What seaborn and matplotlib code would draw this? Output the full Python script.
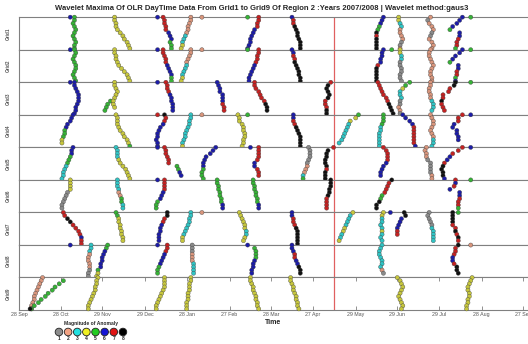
import matplotlib
matplotlib.use("Agg")
import matplotlib.pyplot as plt
import pandas as pd
import seaborn as sns

title = ("Wavelet Maxima Of OLR DayTime Data From Grid1 to Grid9 Of Region 2 "
         ":Years 2007/2008 | Wavelet method:gaus3")
tick_days = [0, 30, 60, 91, 121, 152, 182, 212, 243, 273, 303, 334, 364]
tick_labels = ["28 Sep", "28 Oct", "29 Nov", "29 Dec", "28 Jan", "27 Feb", "28 Mar",
               "27 Apr", "29 May", "29 Jun", "29 Jul", "28 Aug", "27 Sep"]
grid_names = ["Grid1", "Grid2", "Grid3", "Grid4", "Grid5", "Grid6", "Grid7", "Grid8", "Grid9"]
marker_day = 227.5
magnitudes = [1, 2, 3, 4, 5, 6, 7, 8]
point_colors = {1: "#8a8a8a", 2: "#d8957c", 3: "#30c4c4", 4: "#c6c63e",
                5: "#36b236", 6: "#1c1ca8", 7: "#c42222", 8: "#111111"}
legend_colors = {1: "#8c8c8c", 2: "#f2a283", 3: "#22e0e0", 4: "#f0f022",
                 5: "#22cc22", 6: "#1414d4", 7: "#e01414", 8: "#000000"}

# each track: (first scale level, days at successive levels, magnitude codes)
grid1 = [
    (0, [37], "6"),
    (0, [40, 40, 39, 40, 41, 40, 39, 40, 41, 40, 40], "55555555555"),
    (0, [69, 69, 70, 70, 71, 73, 75, 76, 78, 79, 80], "44444444444"),
    (0, [104, 105, 105, 106, 106, 108, 109, 110, 109, 110, 110], "77777666555"),
    (0, [100], "6"),
    (0, [124, 124, 123, 122, 122, 121, 120, 119, 118, 118, 117], "22222233344"),
    (0, [132], "2"),
    (0, [173, 173, 172, 172, 170, 169, 168, 167, 167, 166, 165], "77776666666"),
    (0, [165], "5"),
    (0, [197, 198, 198, 199, 200, 201, 201, 202, 203, 203, 203], "67788888888"),
    (0, [263, 262, 261, 260, 259, 258, 258, 258, 258, 258, 258], "66655878888"),
    (0, [274, 274, 275, 276, 275, 275, 276, 277, 276, 275, 275], "44332222112"),
    (0, [297, 295, 296, 298, 299, 298, 297, 296, 298, 299, 298], "21222112222"),
    (0, [320, 318, 316, 313, 311], "66665"),
    (5, [318, 318, 317, 316, 316, 315], "667775"),
    (0, [326], "5"),
]
grid2 = [
    (0, [37], "6"),
    (0, [40, 41, 40, 39, 40, 41, 41, 40, 39, 40, 41], "55555555555"),
    (0, [69, 69, 70, 70, 71, 72, 74, 76, 78, 79, 80], "44444444444"),
    (0, [104, 104, 105, 106, 106, 107, 108, 109, 110, 110, 110], "77777666655"),
    (0, [100], "6"),
    (0, [124, 124, 123, 122, 121, 121, 120, 119, 118, 118, 117], "22222333344"),
    (0, [132], "2"),
    (0, [173, 173, 172, 172, 171, 170, 169, 168, 167, 166, 166], "77777666666"),
    (0, [165], "5"),
    (0, [197, 198, 198, 199, 199, 200, 201, 202, 202, 203, 203], "66778888888"),
    (0, [263, 262, 262, 261, 261, 259, 258, 258, 258, 258, 258], "66666788888"),
    (0, [269], "5"),
    (0, [275, 275, 276, 276, 275, 275, 276, 276, 275, 275, 276], "44331111111"),
    (0, [297, 296, 296, 297, 298, 299, 298, 297, 297, 298, 298], "22222222222"),
    (0, [320, 318, 315, 313, 311], "66665"),
    (5, [317, 317, 316, 316, 315, 315], "667756"),
    (0, [326], "5"),
]
grid3 = [
    (0, [37], "6"),
    (0, [40, 40, 41, 42, 43, 43, 43, 42, 41, 41, 40], "66666666666"),
    (6, [66, 64, 63, 62], "5555"),
    (0, [69, 69, 70, 71, 70, 69, 68, 68, 69], "444444444"),
    (0, [100], "6"),
    (0, [106, 107, 107, 108, 109, 110, 110, 111, 111, 111], "7777666666"),
    (0, [143, 144, 145, 145, 147, 147, 147, 147, 148, 148], "6666666777"),
    (0, [170, 170, 171, 173, 174, 175, 177, 178, 179, 179], "7777777888"),
    (0, [225, 223, 222, 223, 224, 223, 221, 221, 222, 222, 222], "78888877788"),
    (0, [259, 260, 261, 262, 263, 265, 266, 267, 268, 269, 270], "77777778888"),
    (0, [282, 279, 277, 275, 275, 276, 275, 275, 274, 275, 275], "55433311221"),
    (0, [297, 297, 296, 296, 297, 297, 298, 299, 299, 298], "2222223333"),
    (0, [315, 314, 311, 310, 306, 306, 305, 305, 306, 307], "8877778777"),
    (0, [326], "5"),
]
grid4 = [
    (0, [39, 38, 37, 35, 34, 33, 33, 32, 31, 31], "6666655544"),
    (0, [70, 71, 71, 71, 72, 73, 75, 76, 78, 79, 80], "44444444445"),
    (0, [100], "7"),
    (0, [105, 106, 105, 104, 102, 101, 100, 100, 99, 100, 100], "87766666666"),
    (0, [124, 124, 123, 123, 122, 121, 120, 120, 119, 118, 118], "33333333334"),
    (0, [132], "2"),
    (0, [158, 159, 159, 161, 162, 162, 163, 163, 162, 162, 161], "44444444444"),
    (0, [165], "5"),
    (0, [198, 198, 198, 199, 200, 201, 202, 203, 203, 203, 203], "66778888888"),
    (0, [245, 243, 239, 238, 237, 236, 235, 234, 233, 231], "5443333333"),
    (0, [263, 263, 263, 262, 261, 261, 260, 260, 260, 260, 260], "55553333333"),
    (0, [277, 279, 282, 284, 285, 285, 285, 285, 285, 285, 286], "66667777776"),
    (0, [297, 298, 299, 299, 298, 297, 298, 299, 299, 299, 298], "22222222333"),
    (0, [320, 317, 317, 314, 313, 316, 316, 317, 317], "777666666"),
    (0, [326], "6"),
]
grid5 = [
    (0, [39, 38, 38, 37, 36, 35, 34, 33, 32, 32, 31], "66655533333"),
    (0, [70, 71, 71, 71, 72, 73, 75, 77, 78, 79, 80], "33334444444"),
    (0, [100], "6"),
    (0, [105, 106, 106, 107, 108, 108], "777777"),
    (6, [114, 115, 116, 117], "5566"),
    (0, [142, 140, 138, 135, 134, 133, 133, 133, 132, 132, 133], "66666665555"),
    (0, [167], "6"),
    (0, [173, 173, 173, 173, 172, 170, 170, 172, 173, 173], "7777766777"),
    (0, [209, 210, 210, 210, 209, 208, 208, 207, 206, 205, 205], "11111122235"),
    (0, [227], "7"),
    (1, [223, 222, 222, 221, 221, 222, 222, 221, 221, 221], "8888887888"),
    (0, [263, 265, 266, 266, 266, 265, 263, 262, 261, 261], "7777766666"),
    (0, [294, 293, 294, 294, 295, 297, 297, 297, 297, 298, 298], "22221111122"),
    (0, [320, 317, 313, 311, 309, 307, 306, 305, 306, 306, 307], "77766788886"),
    (0, [326], "6"),
]
grid6 = [
    (0, [37, 37, 37, 37, 35, 34, 33, 32, 31, 31], "4444111111"),
    (0, [71, 71, 71, 72, 72, 73, 74, 74, 75, 75], "3333225533"),
    (0, [100], "6"),
    (0, [105, 105, 105, 105, 104, 103, 102, 100, 99, 99], "7777666555"),
    (0, [143, 143, 144, 144, 145, 145, 146, 146, 147, 147], "5555555566"),
    (0, [169, 169, 170, 170, 171, 171, 172, 172, 173, 173], "5555555566"),
    (0, [225, 225, 225, 224, 224, 223, 222, 222, 222, 222], "8888887777"),
    (0, [269, 267, 266, 265, 264, 262, 261, 260, 258, 258], "8777755888"),
    (0, [315, 315, 314, 311], "7676"),
    (4, [318, 318, 318, 317, 317, 317], "667775"),
    (0, [326], "5"),
]
grid7 = [
    (0, [32, 33, 35, 37, 39, 41, 43, 44, 45, 45, 45], "77887777677"),
    (0, [70, 71, 72, 72, 73, 73, 74, 74, 75, 75], "5544444444"),
    (0, [107, 107, 105, 104, 103, 102, 102, 101, 101, 101], "8877666666"),
    (0, [124, 124, 123, 123, 122, 121, 120, 119, 118, 118], "3333333344"),
    (0, [132], "2"),
    (0, [159, 160, 161, 162, 163, 163, 164, 164, 163, 162], "4444443344"),
    (0, [197, 197, 198, 198, 199, 200, 201, 201, 201, 201, 201], "66777888888"),
    (0, [241, 239, 238, 237, 236, 235, 234, 233, 232, 231], "4333344334"),
    (0, [263, 262, 262, 262, 261, 262, 262, 262, 261, 262], "4433334333"),
    (0, [268], "6"),
    (0, [278, 279, 276, 275, 274, 273, 273, 273], "88666677"),
    (0, [296, 295, 296, 297, 298, 298, 299, 299, 299, 299], "1111133333"),
    (0, [317], "5"),
    (0, [313, 313, 313, 313, 313, 315, 315, 316, 317, 317], "8888778787"),
]
grid8 = [
    (0, [37], "6"),
    (0, [52, 52, 51, 51, 50, 50, 51, 51, 51, 50, 50], "33322222111"),
    (0, [64, 63, 62, 61, 60, 60, 59, 59, 57, 57, 56], "55666666544"),
    (0, [100], "6"),
    (0, [107, 107, 106, 105, 104, 103, 102, 101, 100, 100], "7776666555"),
    (0, [125, 125, 125, 125, 125, 125, 126, 126, 126, 126], "1112223333"),
    (0, [165], "6"),
    (1, [170, 171, 171, 171, 170, 169, 169, 168, 168], "555566666"),
    (0, [197, 197, 198, 199, 199, 200, 201, 202, 203, 203], "6667766888"),
    (0, [262, 261, 260, 260, 261, 262, 262, 261, 262, 263], "3333333321"),
    (0, [317, 315, 315, 314, 313, 313, 314, 316, 316, 317], "8777667888"),
    (0, [326], "2"),
]
grid9 = [
    (0, [17, 16, 15, 14, 13, 12, 11, 11, 10, 9, 9], "22222222222"),
    (1, [32, 29, 26, 24, 21, 19, 16, 14, 11, 9], "5555555555"),
    (10, [8], "8"),
    (0, [57, 56, 56, 55, 55, 54, 53, 52, 51, 50, 50], "44444444444"),
    (0, [105, 105, 105, 105, 104, 103, 102, 101, 100, 99, 99], "44444444444"),
    (0, [124, 124, 123, 123, 123, 122, 122, 122, 121, 121, 121], "44444444444"),
    (0, [167, 167, 168, 169, 169, 170, 171, 171, 172, 172, 173], "44444444444"),
    (0, [196, 196, 197, 198, 198, 199, 200, 200, 201, 201, 202], "44444444444"),
    (0, [273, 275, 276, 277, 276, 275, 274, 275, 276, 277, 276], "44444444444"),
    (0, [327, 326, 325, 324, 324, 325, 325, 324, 324, 323, 323], "44444444444"),
]
grids = [grid1, grid2, grid3, grid4, grid5, grid6, grid7, grid8, grid9]

rows = []
for g, tracks in enumerate(grids):
    for start, days, codes in tracks:
        for i, (d, c) in enumerate(zip(days, codes)):
            rows.append((g, d, start + i, int(c)))
df = pd.DataFrame(rows, columns=["grid", "day", "level", "mag"])

sns.set_theme(style="white")
plt.rcParams["font.family"] = ["Liberation Sans", "DejaVu Sans"]

W, H = 528, 344
fig, axes = plt.subplots(9, 1, figsize=(W / 100, H / 100), dpi=100, sharex=True)
fig.patch.set_facecolor("white")
fig.subplots_adjust(left=19 / W, right=540 / W, top=1 - 17 / H, bottom=1 - 310 / H, hspace=0)

for g, ax in enumerate(axes):
    sub = df[df["grid"] == g]
    ax.axvline(marker_day, color="#e06060", lw=0.9, zorder=1)
    sns.scatterplot(data=sub, x="day", y="level", hue="mag", palette=point_colors,
                    hue_order=magnitudes, legend=False, s=9, linewidth=0.25,
                    edgecolor="#3a3a3a", ax=ax, clip_on=False, zorder=3)
    ax.set_xlim(0, 376)
    ax.set_ylim(10.35, -0.05)
    ax.set_yticks([])
    ax.set_xlabel("")
    ax.set_ylabel(grid_names[g], fontsize=3.3, color="#555555", weight="bold")
    ax.yaxis.set_label_coords(-8 / 521, 0.5)
    for sp in ax.spines.values():
        sp.set_color("#808080")
        sp.set_linewidth(0.8)
    ax.tick_params(axis="x", bottom=False, top=False, labelbottom=False)

last = axes[-1]
last.set_xticks(tick_days)
last.set_xticklabels(tick_labels)
last.tick_params(axis="x", bottom=True, top=True, labelbottom=True, direction="in",
                 length=3, width=0.6, color="#808080", labelsize=3.8,
                 labelcolor="#555555", pad=1.5)

fig.text(262 / W, 1 - 8 / H, title, ha="center", va="center", fontsize=5.5, weight="bold")
fig.text(273 / W, 1 - 322 / H, "Time", ha="center", va="center", fontsize=5, weight="bold")
fig.text(91 / W, 1 - 323 / H, "Magnitude of Anomaly", ha="center", va="center",
         fontsize=3.6, weight="bold")

lax = fig.add_axes([54.4 / W, 0, 73.1 / W, 22 / H])
sns.scatterplot(x=magnitudes, y=[0] * len(magnitudes), hue=magnitudes, palette=legend_colors,
                hue_order=magnitudes, legend=False, s=30, edgecolor="#222222", linewidth=0.6,
                ax=lax, clip_on=False)
for k in magnitudes:
    lax.text(k, -0.7, str(k), ha="center", va="center", fontsize=3.6, weight="bold")
lax.set_xlim(0.5, 8.5)
lax.set_ylim(-1.2, 1)
lax.axis("off")

fig.savefig("out.png", dpi=100, facecolor="white")
